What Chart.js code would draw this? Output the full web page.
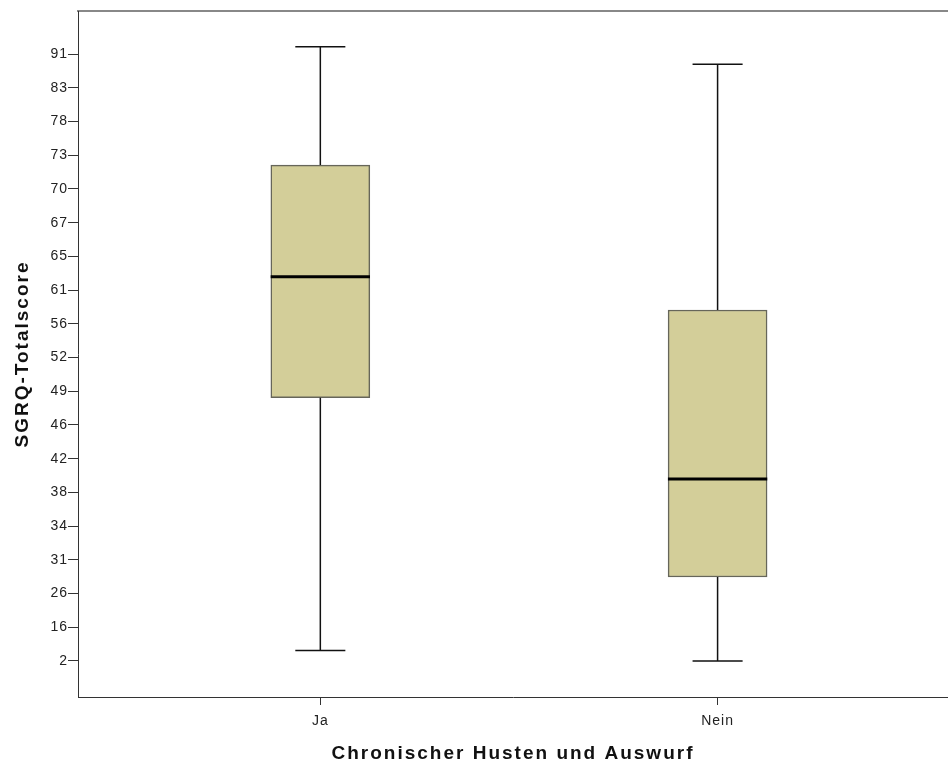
<!DOCTYPE html>
<html>
<head>
<meta charset="utf-8">
<title>SGRQ-Totalscore</title>
<script src="https://cdn.jsdelivr.net/npm/chart.js@4.4.0/dist/chart.umd.min.js"></script>
<style>
  body { margin: 0; background: #fff; }
  canvas { display: block; }
</style>
</head>
<body>
<canvas id="myChart" width="948" height="766"></canvas>
<script>
// Categories on the x axis
const groups = ["Ja", "Nein"];

// The y axis in the original is ordinal: every tick is one step apart,
// so the box values below are given in tick steps (0 = "2", 18 = "91")
const yTickLabels = ["2", "16", "26", "31", "34", "38", "42", "46", "49", "52",
                     "56", "61", "65", "67", "70", "73", "78", "83", "91"];

const whiskerLow  = [0.31, 0.00];
const q1          = [7.81, 2.49];
const median      = [11.40, 5.40];
const q3          = [14.71, 10.41];
const whiskerHigh = [18.22, 17.70];

const CAP_HALF = 0.063; // half width of a whisker cap, in x units
const BOX_HALF = 0.125; // half width of the box, in x units
const FONT = "'Liberation Sans', Arial, sans-serif";

let chartInstance;

const createChart = () => {
  const ctx = document.getElementById("myChart").getContext("2d");
  if (chartInstance) chartInstance.destroy();

  // whiskers and caps, broken into segments with empty points
  const whiskerPoints = [];
  groups.forEach((g, i) => {
    whiskerPoints.push({ x: i, y: q3[i] }, { x: i, y: whiskerHigh[i] }, { x: i, y: null });
    whiskerPoints.push({ x: i, y: q1[i] }, { x: i, y: whiskerLow[i] }, { x: i, y: null });
    whiskerPoints.push({ x: i - CAP_HALF, y: whiskerHigh[i] }, { x: i + CAP_HALF, y: whiskerHigh[i] }, { x: i, y: null });
    whiskerPoints.push({ x: i - CAP_HALF, y: whiskerLow[i] }, { x: i + CAP_HALF, y: whiskerLow[i] }, { x: i, y: null });
  });

  const medianPoints = [];
  groups.forEach((g, i) => {
    medianPoints.push({ x: i - BOX_HALF, y: median[i] }, { x: i + BOX_HALF, y: median[i] }, { x: i, y: null });
  });

  const data = {
    datasets: [
      {
        type: "bar",
        label: "Box",
        data: groups.map((g, i) => ({ x: i, y: [q1[i], q3[i]] })),
        backgroundColor: "#d3ce99",
        borderColor: "#66665a",
        borderWidth: 1.5,
        borderSkipped: false,
        barThickness: 99,
        order: 3,
      },
      {
        type: "line",
        label: "Whisker",
        data: whiskerPoints,
        borderColor: "#111",
        borderWidth: 1.5,
        pointRadius: 0,
        tension: 0,
        fill: false,
        spanGaps: false,
        order: 2,
      },
      {
        type: "line",
        label: "Median",
        data: medianPoints,
        borderColor: "#000",
        borderWidth: 3,
        pointRadius: 0,
        tension: 0,
        fill: false,
        spanGaps: false,
        order: 1,
      },
    ],
  };

  // SPSS style text is spaced out a little, titles a bit more than ticks
  const spacing = {
    id: "spacing",
    beforeDraw: (chart) => {
      const c = chart.ctx;
      if (c._spaced) return;
      const fill = c.fillText;
      c.fillText = function (t, x, y, w) {
        this.letterSpacing = this.font.indexOf("bold") >= 0 ? "2px" : "1px";
        return w === undefined ? fill.call(this, t, x, y) : fill.call(this, t, x, y, w);
      };
      c._spaced = true;
    },
  };

  const config = {
    type: "bar",
    data: data,
    plugins: [spacing],
    options: {
      responsive: false,
      animation: false,
      events: [],
      layout: { padding: 0 },
      plugins: {
        legend: { display: false },
        tooltip: { enabled: false },
      },
      scales: {
        x: {
          type: "linear",
          position: "bottom",
          min: -0.61,
          max: 1.58,
          offset: false,
          afterFit: (axis) => { axis.height = 69; },
          afterBuildTicks: (axis) => { axis.ticks = groups.map((g, i) => ({ value: i })); },
          ticks: {
            callback: (v, i) => groups[i],
            font: { family: FONT, size: 14 },
            color: "#222",
            padding: 8,
            maxRotation: 0,
            autoSkip: false,
          },
          grid: { offset: false, drawOnChartArea: false, drawTicks: true, tickLength: 8, color: "#333" },
          border: { display: true, color: "#333", width: 1 },
          title: {
            display: true,
            text: "Chronischer Husten und Auswurf",
            font: { family: FONT, size: 19, weight: "bold" },
            color: "#111",
            padding: { top: 0, bottom: 1 },
          },
        },
        xTop: {
          type: "linear",
          position: "top",
          min: -0.61,
          max: 1.58,
          afterFit: (axis) => { axis.height = 11; },
          ticks: { display: false },
          grid: { drawOnChartArea: false, drawTicks: false },
          border: { display: true, color: "#888", width: 2 },
        },
        y: {
          type: "linear",
          position: "left",
          min: -1.07,
          max: 19.28,
          afterFit: (axis) => { axis.width = 78; },
          afterBuildTicks: (axis) => { axis.ticks = yTickLabels.map((t, i) => ({ value: i })); },
          ticks: {
            callback: (v, i) => yTickLabels[i],
            font: { family: FONT, size: 14 },
            color: "#222",
            padding: 0,
            autoSkip: false,
          },
          grid: { drawOnChartArea: false, drawTicks: true, tickLength: 10, color: "#333" },
          border: { display: true, color: "#333", width: 1 },
          title: {
            display: true,
            text: "SGRQ-Totalscore",
            font: { family: FONT, size: 19, weight: "bold" },
            color: "#111",
            padding: { top: 11, bottom: 0 },
          },
        },
      },
    },
  };

  chartInstance = new Chart(ctx, config);
};

document.addEventListener("DOMContentLoaded", createChart);
</script>
</body>
</html>
